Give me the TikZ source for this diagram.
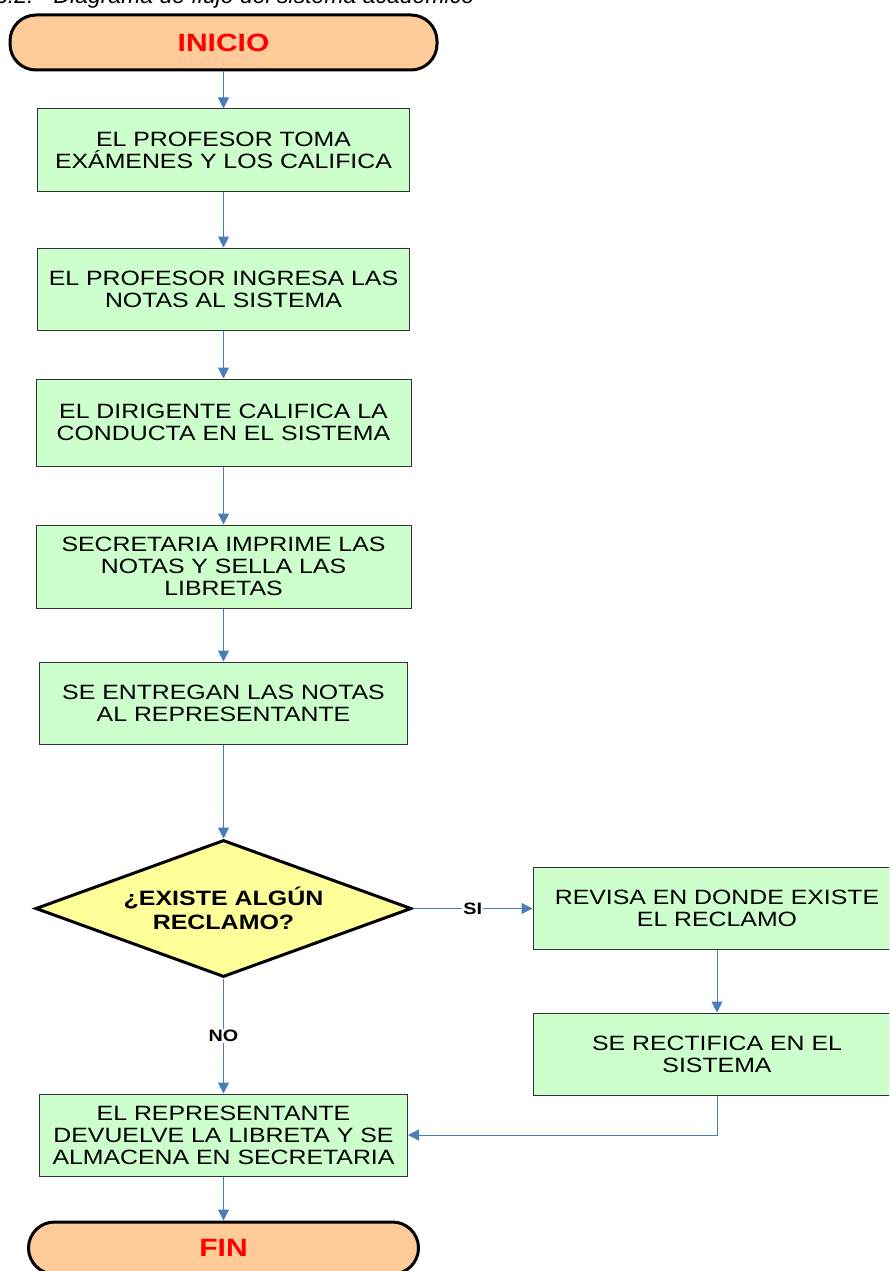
\documentclass[tikz,border=0pt]{standalone}
\usepackage{fontspec}
\setmainfont{Liberation Sans}[FakeStretch=1.2]
\newfontfamily\titulofont{Liberation Sans}
\usetikzlibrary{arrows.meta,shapes.geometric,positioning}
\definecolor{durazno}{HTML}{FFCC99}
\definecolor{verde}{HTML}{CCFFCC}
\definecolor{amarillo}{HTML}{FFFF99}
\definecolor{azul}{HTML}{4A7EBB}
\tikzset{
  proceso/.style={draw=black!80, line width=1pt, fill=verde, minimum width=372pt,
    minimum height=82pt, inner sep=0pt, align=center, font=\fontsize{20.7}{22}\selectfont},
  terminal/.style={draw=black, line width=3pt, fill=durazno, rounded corners=26pt,
    inner sep=0pt, text=red, font=\fontsize{25}{25}\selectfont\bfseries},
  decision/.style={diamond, aspect=2.74, draw=black, line width=3pt, fill=amarillo,
    minimum width=376pt, minimum height=137pt, inner sep=0pt, align=center,
    font=\fontsize{20.8}{24}\selectfont\bfseries},
  flecha/.style={draw=azul, line width=1pt, -{Triangle[length=11pt,width=11pt]}},
  rotulo/.style={fill=white, inner sep=1pt, font=\fontsize{16.5}{16.5}\selectfont\bfseries}
}
\begin{document}
\begin{tikzpicture}[x=1pt, y=-1pt]
  \clip (0,0) rectangle (889,1271);
  \fill[white] (0,0) rectangle (889,1271);

  % titulo (cortado arriba)
  \node[anchor=base west, inner sep=0pt, font=\titulofont\fontsize{23}{23}\selectfont\itshape]
    (titulo) at (-5,4) {3.2:\hspace{20pt}Diagrama de flujo del sistema académico};

  % columna principal
  \node[terminal, minimum width=427pt, minimum height=55pt] (inicio) at (223.5,42.5) {INICIO};
  \node[proceso] (tomar) at (223.5,150) {EL PROFESOR TOMA\\EXÁMENES Y LOS CALIFICA};
  \node[proceso] (ingresar) at (223.5,289) {EL PROFESOR INGRESA LAS\\NOTAS AL SISTEMA};
  \node[proceso, minimum width=375pt, minimum height=87pt] (conducta) at (223.5,422.5) {EL DIRIGENTE CALIFICA LA\\CONDUCTA EN EL SISTEMA};
  \node[proceso, minimum width=375pt, minimum height=83pt] (imprimir) at (223.5,566.5) {SECRETARIA IMPRIME LAS\\NOTAS Y SELLA LAS\\LIBRETAS};
  \node[proceso, minimum width=368pt] (entregar) at (223.5,703) {SE ENTREGAN LAS NOTAS\\AL REPRESENTANTE};
  \node[decision] (reclamo) at (223.5,908.5) {¿EXISTE ALGÚN\\RECLAMO?};
  \node[proceso, minimum width=368pt] (devolver) at (223.5,1135) {EL REPRESENTANTE\\DEVUELVE LA LIBRETA Y SE\\ALMACENA EN SECRETARIA};
  \node[terminal, minimum width=390pt, minimum height=52pt] (fin) at (223.5,1248) {FIN};

  % rama del reclamo
  \node[proceso, minimum width=368pt] (revisar) at (717,908.5) {REVISA EN DONDE EXISTE\\EL RECLAMO};
  \node[proceso, minimum width=368pt] (rectificar) at (717,1054) {SE RECTIFICA EN EL\\SISTEMA};

  % conectores
  \draw[flecha] (inicio) -- (tomar);
  \draw[flecha] (tomar) -- (ingresar);
  \draw[flecha] (ingresar) -- (conducta);
  \draw[flecha] (conducta) -- (imprimir);
  \draw[flecha] (imprimir) -- (entregar);
  \draw[flecha] (entregar) -- (reclamo);
  \draw[flecha] (reclamo) -- node[rotulo] {SI} (revisar);
  \draw[flecha] (reclamo) -- node[rotulo] {NO} (devolver);
  \draw[flecha] (revisar) -- (rectificar);
  \draw[flecha] (rectificar.south) |- (devolver.east);
  \draw[flecha] (devolver) -- (fin);
\end{tikzpicture}
\end{document}
